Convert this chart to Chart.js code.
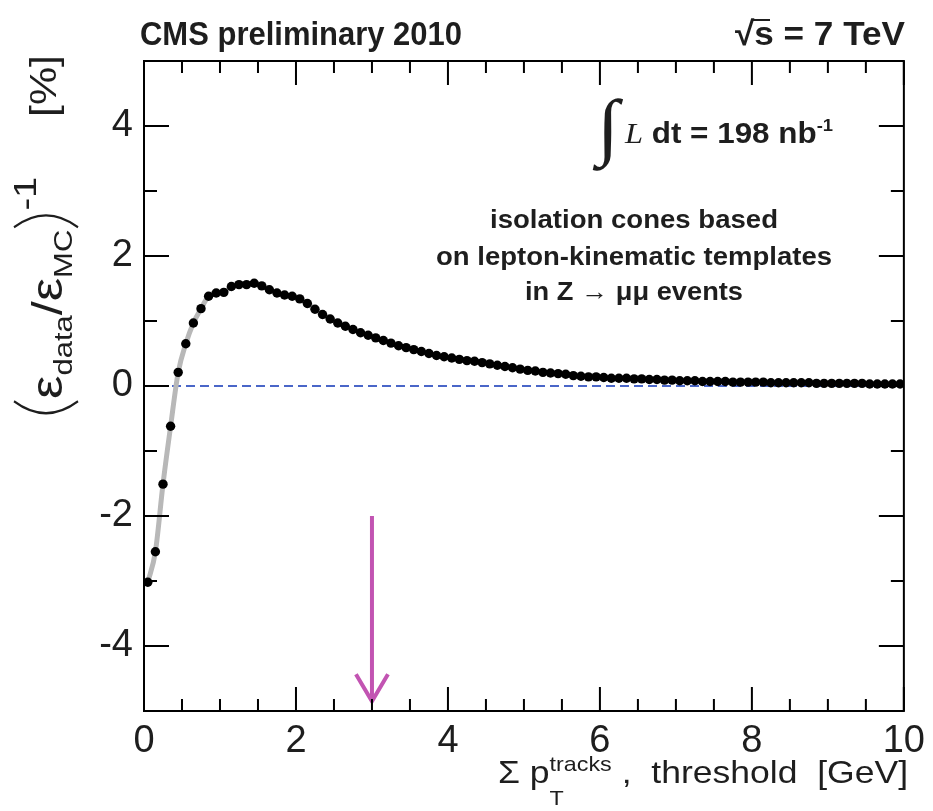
<!DOCTYPE html>
<html>
<head>
<meta charset="utf-8">
<script src="https://cdn.jsdelivr.net/npm/chart.js@4.4.0/dist/chart.umd.min.js"></script>
<style>
  html, body { margin: 0; padding: 0; background: #fff; }
  #wrap { width: 933px; height: 811px; position: relative; }
</style>
</head>
<body>
<div id="wrap"><canvas id="eff-ratio"></canvas></div>
<script>
// track-isolation threshold [GeV] and (eff_data / eff_MC) - 1 [%]
const thresholdGeV = [
  0.05, 0.15, 0.25, 0.35, 0.45, 0.55, 0.65, 0.75, 0.85, 0.95,
  1.05, 1.15, 1.25, 1.35, 1.45, 1.55, 1.65, 1.75, 1.85, 1.95,
  2.05, 2.15, 2.25, 2.35, 2.45, 2.55, 2.65, 2.75, 2.85, 2.95,
  3.05, 3.15, 3.25, 3.35, 3.45, 3.55, 3.65, 3.75, 3.85, 3.95,
  4.05, 4.15, 4.25, 4.35, 4.45, 4.55, 4.65, 4.75, 4.85, 4.95,
  5.05, 5.15, 5.25, 5.35, 5.45, 5.55, 5.65, 5.75, 5.85, 5.95,
  6.05, 6.15, 6.25, 6.35, 6.45, 6.55, 6.65, 6.75, 6.85, 6.95,
  7.05, 7.15, 7.25, 7.35, 7.45, 7.55, 7.65, 7.75, 7.85, 7.95,
  8.05, 8.15, 8.25, 8.35, 8.45, 8.55, 8.65, 8.75, 8.85, 8.95,
  9.05, 9.15, 9.25, 9.35, 9.45, 9.55, 9.65, 9.75, 9.85, 9.95
];
const effRatioPct = [
  -3.02, -2.55, -1.51, -0.62, 0.21, 0.65, 0.97, 1.19, 1.38, 1.43,
  1.44, 1.53, 1.56, 1.56, 1.58, 1.54, 1.48, 1.43, 1.40, 1.38,
  1.34, 1.27, 1.18, 1.10, 1.03, 0.97, 0.92, 0.87, 0.82, 0.78,
  0.74, 0.70, 0.66, 0.62, 0.59, 0.56, 0.53, 0.50, 0.47, 0.45,
  0.43, 0.41, 0.39, 0.38, 0.36, 0.34, 0.32, 0.30, 0.28, 0.26,
  0.24, 0.23, 0.21, 0.20, 0.19, 0.18, 0.16, 0.15, 0.14, 0.14,
  0.13, 0.12, 0.12, 0.12, 0.11, 0.11, 0.10, 0.10, 0.09, 0.09,
  0.08, 0.08, 0.08, 0.07, 0.07, 0.07, 0.07, 0.06, 0.06, 0.06,
  0.06, 0.06, 0.05, 0.05, 0.05, 0.05, 0.05, 0.05, 0.04, 0.04,
  0.04, 0.04, 0.04, 0.04, 0.04, 0.03, 0.03, 0.03, 0.03, 0.03
];
const zeroLineX = [0, 10];
const zeroLineY = [0, 0];
// chosen working point, marked by an arrow
const cutArrowX = [3, 3];
const cutArrowY = [-2, -4.85];
const xTickLabels = [0, 2, 4, 6, 8, 10];
const yTickLabels = [-4, -2, 0, 2, 4];

const toPoints = (xs, ys) => xs.map((x, i) => ({ x: x, y: ys[i] }));
const points = toPoints(thresholdGeV, effRatioPct);

const TEXT = '#1e1e1e';
const SANS = "'Liberation Sans', Arial, sans-serif";
const SERIF = "'Liberation Serif', 'Times New Roman', serif";

// draws a row of text runs [text, font, dy, noAdvance], squeezed to fitWidth
function drawRuns(ctx, runs, x, y, align, fitWidth) {
  let total = 0;
  const widths = runs.map(r => {
    ctx.font = r[1];
    const w = r[0] === '(' || r[0] === ')' ? 16 : ctx.measureText(r[0]).width;
    if (!r[3]) total += w;
    return w;
  });
  const sx = fitWidth ? fitWidth / total : 1;
  ctx.save();
  ctx.translate(x, y);
  ctx.scale(sx, 1);
  let cx = align === 'right' ? -total : align === 'center' ? -total / 2 : 0;
  ctx.textBaseline = 'alphabetic';
  ctx.textAlign = 'left';
  runs.forEach((r, i) => {
    const dy = r[2] || 0;
    if (r[0] === '(' || r[0] === ')') {
      // thin stretched bracket
      const w = widths[i];
      ctx.beginPath();
      ctx.lineWidth = 2;
      ctx.strokeStyle = TEXT;
      if (r[0] === '(') {
        ctx.moveTo(cx + w - 2, dy - 48);
        ctx.quadraticCurveTo(cx - 6, dy - 16, cx + w - 2, dy + 16);
      } else {
        ctx.moveTo(cx + 2, dy - 48);
        ctx.quadraticCurveTo(cx + w + 6, dy - 16, cx + 2, dy + 16);
      }
      ctx.stroke();
    } else {
      ctx.font = r[1];
      ctx.fillStyle = TEXT;
      ctx.fillText(r[0], cx, dy);
    }
    if (!r[3]) cx += widths[i];
  });
  ctx.restore();
}

const framePlugin = {
  id: 'frameTicks',
  afterDatasetsDraw(chart) {
    const { ctx, chartArea: a, scales } = chart;
    const xs = scales.x, ys = scales.y;
    ctx.save();
    // cut arrow head
    const arrowMeta = chart.getDatasetMeta(3);
    const tip = arrowMeta.data[arrowMeta.data.length - 1];
    ctx.strokeStyle = '#c254b2';
    ctx.lineWidth = 4;
    ctx.beginPath();
    ctx.moveTo(tip.x - 16, tip.y - 27);
    ctx.lineTo(tip.x, tip.y);
    ctx.lineTo(tip.x + 16, tip.y - 27);
    ctx.stroke();

    ctx.strokeStyle = '#000';
    ctx.lineWidth = 2;
    ctx.strokeRect(a.left, a.top, a.right - a.left, a.bottom - a.top);
    ctx.beginPath();
    for (let v = xs.min; v <= xs.max + 1e-9; v += 0.5) {
      const px = xs.getPixelForValue(v);
      const len = Math.abs(v % 2) < 1e-9 ? 24 : 12;
      ctx.moveTo(px, a.bottom); ctx.lineTo(px, a.bottom - len);
      ctx.moveTo(px, a.top); ctx.lineTo(px, a.top + len);
    }
    for (let v = Math.ceil(ys.min); v <= ys.max + 1e-9; v += 1) {
      const py = ys.getPixelForValue(v);
      const len = Math.abs(v % 2) < 1e-9 ? 25 : 13;
      ctx.moveTo(a.left, py); ctx.lineTo(a.left + len, py);
      ctx.moveTo(a.right, py); ctx.lineTo(a.right - len, py);
    }
    ctx.stroke();
    ctx.restore();
  }
};

const textPlugin = {
  id: 'plotTexts',
  afterDraw(chart) {
    const ctx = chart.ctx;
    ctx.save();
    // header
    drawRuns(ctx, [['CMS preliminary 2010', 'bold 34px ' + SANS]], 140, 45, 'left', 322);
    drawRuns(ctx, [['\u221As = 7 TeV', 'bold 34px ' + SANS]], 905, 45, 'right', 170);
    ctx.strokeStyle = TEXT;
    ctx.lineWidth = 2;
    ctx.beginPath();
    ctx.moveTo(752, 20); ctx.lineTo(770, 20);
    ctx.stroke();

    // luminosity
    drawRuns(ctx, [
      ['\u222B', '74px ' + SERIF, 8],
      [' ', '20px ' + SANS],
      ['L', 'italic 30px ' + SERIF],
      [' dt = 198 nb', 'bold 29px ' + SANS],
      ['-1', 'bold 17px ' + SANS, -12]
    ], 597, 143, 'left', 236);

    // selection description
    const f = 'bold 25px ' + SANS;
    drawRuns(ctx, [['isolation cones based', f]], 634, 228, 'center', 288);
    drawRuns(ctx, [['on lepton-kinematic templates', f]], 634, 265, 'center', 396);
    drawRuns(ctx, [['in Z \u2192 \u03BC\u03BC events', f]], 634, 300, 'center', 218);

    // x-axis title
    drawRuns(ctx, [
      ['\u03A3 ', '32px ' + SANS],
      ['p', '32px ' + SANS],
      ['T', '21px ' + SANS, 22, true],
      ['tracks', '21px ' + SANS, -12],
      [' ,  threshold  [GeV]', '32px ' + SANS]
    ], 908, 783, 'right', 410);

    // y-axis title, rotated
    ctx.translate(62, 418);
    ctx.rotate(-Math.PI / 2);
    drawRuns(ctx, [
      ['(', '', 0],
      ['\u03B5', '44px ' + SANS, 0],
      ['data', '26px ' + SANS, 10],
      ['/', '42px ' + SANS, 0],
      ['\u03B5', '44px ' + SANS, 0],
      ['MC', '26px ' + SANS, 10],
      [')', '', 0],
      ['-1', '32px ' + SANS, -26],
      ['     [%]', '36px ' + SANS, -6]
    ], 0, 0, 'left', 363);
    ctx.restore();
  }
};

const ctx = document.getElementById('eff-ratio').getContext('2d');
new Chart(ctx, {
  type: 'line',
  data: {
    datasets: [
      {
        label: 'data / MC',
        data: points,
        showLine: false,
        pointRadius: 4.7,
        pointBackgroundColor: '#000',
        pointBorderColor: '#000',
        pointBorderWidth: 0,
        order: 0
      },
      {
        label: 'trend',
        data: points,
        borderColor: '#b8b8b8',
        borderWidth: 5,
        pointRadius: 0,
        cubicInterpolationMode: 'monotone',
        order: 1
      },
      {
        label: 'zero',
        data: toPoints(zeroLineX, zeroLineY),
        borderColor: '#4a66c8',
        borderWidth: 2,
        borderDash: [9, 5],
        pointRadius: 0,
        order: 2
      },
      {
        label: 'working point',
        data: toPoints(cutArrowX, cutArrowY),
        borderColor: '#c254b2',
        borderWidth: 4,
        pointRadius: 0,
        order: 0
      }
    ]
  },
  options: {
    responsive: true,
    maintainAspectRatio: false,
    animation: false,
    layout: { padding: { top: 61, right: 25, bottom: 0, left: 0 } },
    plugins: {
      legend: { display: false },
      tooltip: { enabled: false }
    },
    scales: {
      x: {
        type: 'linear',
        min: 0,
        max: 10,
        afterBuildTicks: (s) => { s.ticks = xTickLabels.map(v => ({ value: v })); },
        afterFit: (s) => { s.height = 100; },
        grid: { display: false, drawTicks: false },
        border: { display: false },
        ticks: { color: TEXT, font: { family: SANS, size: 38 }, padding: 8, maxRotation: 0, autoSkip: false }
      },
      y: {
        type: 'linear',
        min: -5,
        max: 5,
        afterBuildTicks: (s) => { s.ticks = yTickLabels.map(v => ({ value: v })); },
        afterFit: (s) => { s.width = 144; },
        grid: { display: false, drawTicks: false },
        border: { display: false },
        ticks: { color: TEXT, font: { family: SANS, size: 38 }, padding: 11 }
      }
    }
  },
  plugins: [framePlugin, textPlugin]
});
</script>
</body>
</html>
